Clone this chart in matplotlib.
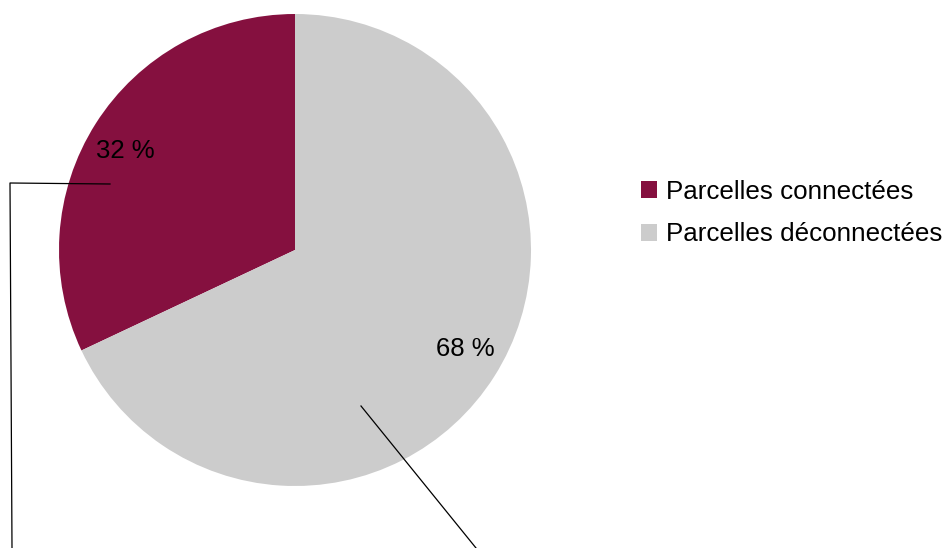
import matplotlib
matplotlib.use("Agg")
import numpy as np
import matplotlib.pyplot as plt
from matplotlib.lines import Line2D
from matplotlib.patches import Patch

plt.rcParams['font.family'] = ['Liberation Sans', 'DejaVu Sans']

# Données
categories = ['Parcelles connectées', 'Parcelles déconnectées']
valeurs = [32, 68]
couleurs = ['#85103F', '#CCCCCC']

W, H = 946, 548
fig = plt.figure(figsize=(W / 100, H / 100), dpi=100)

# axe carré centré sur le camembert
cx, cy, r = 295, 250, 236
ax = fig.add_axes([(cx - r) / W, (H - cy - r) / H, 2 * r / W, 2 * r / H])
wedges, textes, autotextes = ax.pie(
    valeurs, colors=couleurs, startangle=90, counterclock=True,
    autopct=lambda p: f'{p:.0f} %', pctdistance=0.83,
    wedgeprops=dict(linewidth=0),
    textprops=dict(fontsize=18.5, color='black'))
ax.set_xlim(-1, 1)
ax.set_ylim(-1, 1)

# étiquettes légèrement tournées par rapport au milieu du secteur
for w, t in zip(wedges, autotextes):
    a = np.deg2rad((w.theta1 + w.theta2) / 2 + 2.2)
    t.set_position((0.834 * np.cos(a), 0.834 * np.sin(a)))
    t.set_va('center')

# lignes de rappel des étiquettes
def px(x, y):
    return x / W, 1 - y / H

for pts in ([(110, 184), (10, 183), (12, 548)], [(361, 406), (476, 548)]):
    xs, ys = zip(*[px(*p) for p in pts])
    fig.add_artist(Line2D(xs, ys, color='black', linewidth=0.9))

# légende
poignees = [Patch(facecolor=c, edgecolor='none') for c in couleurs]
fig.legend(poignees, categories, loc='center left',
           bbox_to_anchor=(641 / W, 1 - 213 / H), frameon=False,
           fontsize=18.7, handlelength=0.62, handleheight=0.62,
           handletextpad=0.35, labelspacing=0.72, borderpad=0,
           borderaxespad=0)

fig.savefig('out.png', dpi=100)
